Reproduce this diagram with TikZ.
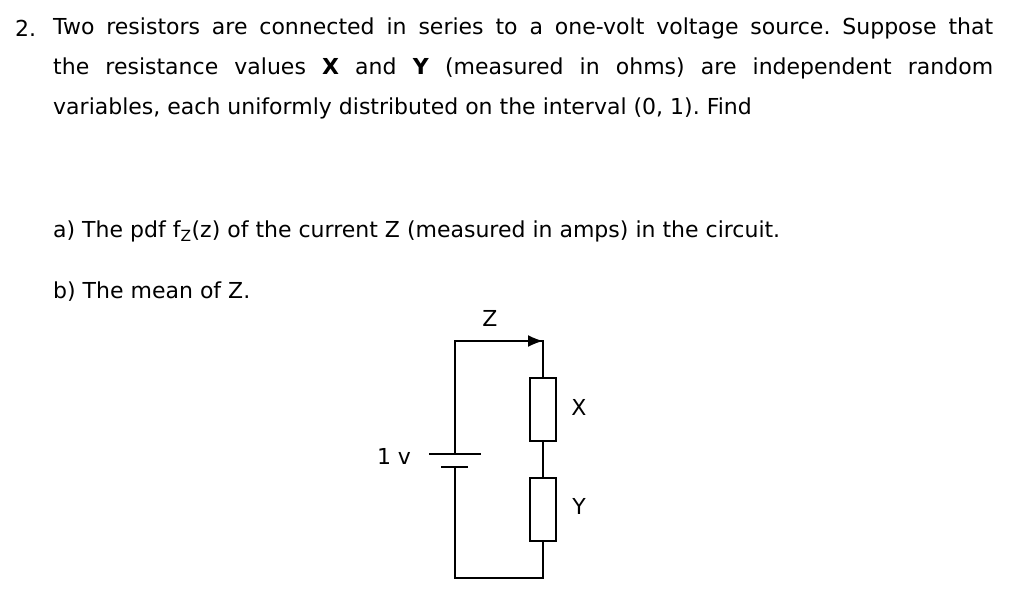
\documentclass[tikz,border=0pt]{standalone}
\usepackage{fontspec}
\setmainfont{DejaVu Sans}
\usetikzlibrary{arrows.meta}
\begin{document}
\frenchspacing
\begin{tikzpicture}[x=1pt,y=-1pt,
  txt/.style={anchor=west,inner sep=0pt,font=\fontsize{22}{26}\selectfont},
  lbl/.style={inner sep=0pt,font=\fontsize{22}{26}\selectfont},
  wire/.style={line width=1.6pt},
  res/.style={draw,line width=1.6pt,minimum width=26pt,minimum height=63pt,inner sep=0pt,fill=white}]
\useasboundingbox (0,0) rectangle (1024,597);
\node[txt] (n2) at (15,28) {2.};
\node[txt] (l1) at (53,28) {\makebox[940pt][s]{Two resistors are connected in series to a one-volt voltage source. Suppose that}};
\node[txt] (l2) at (53,68) {\makebox[940pt][s]{the resistance values \textbf{X} and \textbf{Y} (measured in ohms) are independent random}};
\node[txt] (l3) at (53,108) {variables, each uniformly distributed on the interval (0, 1). Find};
\node[txt] (la) at (53,231) {a) The pdf f\textsubscript{Z}(z) of the current Z (measured in amps) in the circuit.};
\node[txt] (lb) at (53,292) {b) The mean of Z.};
% circuit
\coordinate (tl) at (455,341);
\coordinate (tr) at (543,341);
\coordinate (bl) at (455,578);
\coordinate (br) at (543,578);
\coordinate (bp) at (455,454);
\coordinate (bn) at (455,467);
\node[res] (rx) at (543,409.5) {};
\node[res] (ry) at (543,509.5) {};
\draw[wire] (bp) -- (tl) -- (tr) -- (rx.north);
\draw[wire,-{Latex[length=15pt,width=12pt]}] (tl) -- (tr);
\draw[wire] (rx.south) -- (ry.north);
\draw[wire] (ry.south) -- (br) -- (bl) -- (bn);
\draw[wire] ([xshift=-26pt]bp) -- ([xshift=26pt]bp);
\draw[wire] ([xshift=-14pt]bn) -- ([xshift=13pt]bn);
\node[lbl] (lz) at (490,318) {Z};
\node[lbl] (lx) at (579,407) {X};
\node[lbl] (ly) at (579,506) {Y};
\node[lbl] (lv) at (394,456) {1 v};
\end{tikzpicture}
\end{document}
